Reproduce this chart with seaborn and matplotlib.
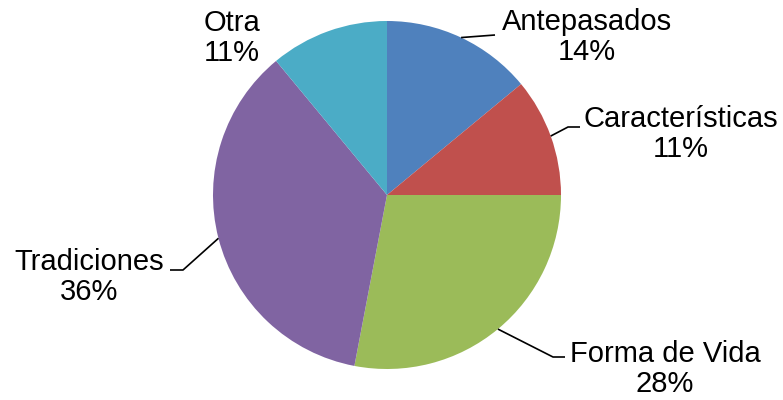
import numpy as np
import matplotlib
matplotlib.use("Agg")
import matplotlib.pyplot as plt
import seaborn as sns

categories = ["Antepasados", "Características", "Forma de Vida", "Tradiciones", "Otra"]
shares = [14, 11, 28, 36, 11]
colors = ["#4F81BD", "#C0504D", "#9BBB59", "#8064A2", "#4BACC6"]

sns.set_theme(style="white")
plt.rcParams["font.family"] = ["Liberation Sans", "DejaVu Sans"]
palette = sns.color_palette(colors)

W, H = 783, 400
fig = plt.figure(figsize=(W / 100, H / 100), dpi=100)
ax = fig.add_axes([0, 0, 1, 1])

cx, cy, r = 387, H - 195, 174
wedges, _ = ax.pie(shares, colors=palette, startangle=90, counterclock=False,
                   center=(cx, cy), radius=r, frame=True,
                   wedgeprops=dict(linewidth=0))
ax.set_xlim(0, W)
ax.set_ylim(0, H)
ax.set_aspect("equal")
ax.axis("off")

# label block centres (pixel coords from the top) and leader elbows
label_pos = [(587, 37), (681, 134), (665, 369), (89, 277), (232, 38)]
elbows = [[(495, 35)],
          [(568, 127), (580, 127)],
          [(553, 357), (565, 357)],
          [(183, 270), (170, 270)],
          None]

for w, name, val, (lx, ly), elb in zip(wedges, categories, shares, label_pos, elbows):
    mid = np.deg2rad((w.theta1 + w.theta2) / 2)
    px, py = cx + r * np.cos(mid), cy + r * np.sin(mid)
    if elb is not None:
        xs = [px] + [e[0] for e in elb]
        ys = [py] + [H - e[1] for e in elb]
        ax.plot(xs, ys, color="black", lw=1.2, solid_capstyle="butt")
    ax.text(lx, H - ly, f"{name}\n{val}%", ha="center", va="center",
            fontsize=21, color="black", linespacing=1.05)

fig.savefig("out.png", dpi=100)
